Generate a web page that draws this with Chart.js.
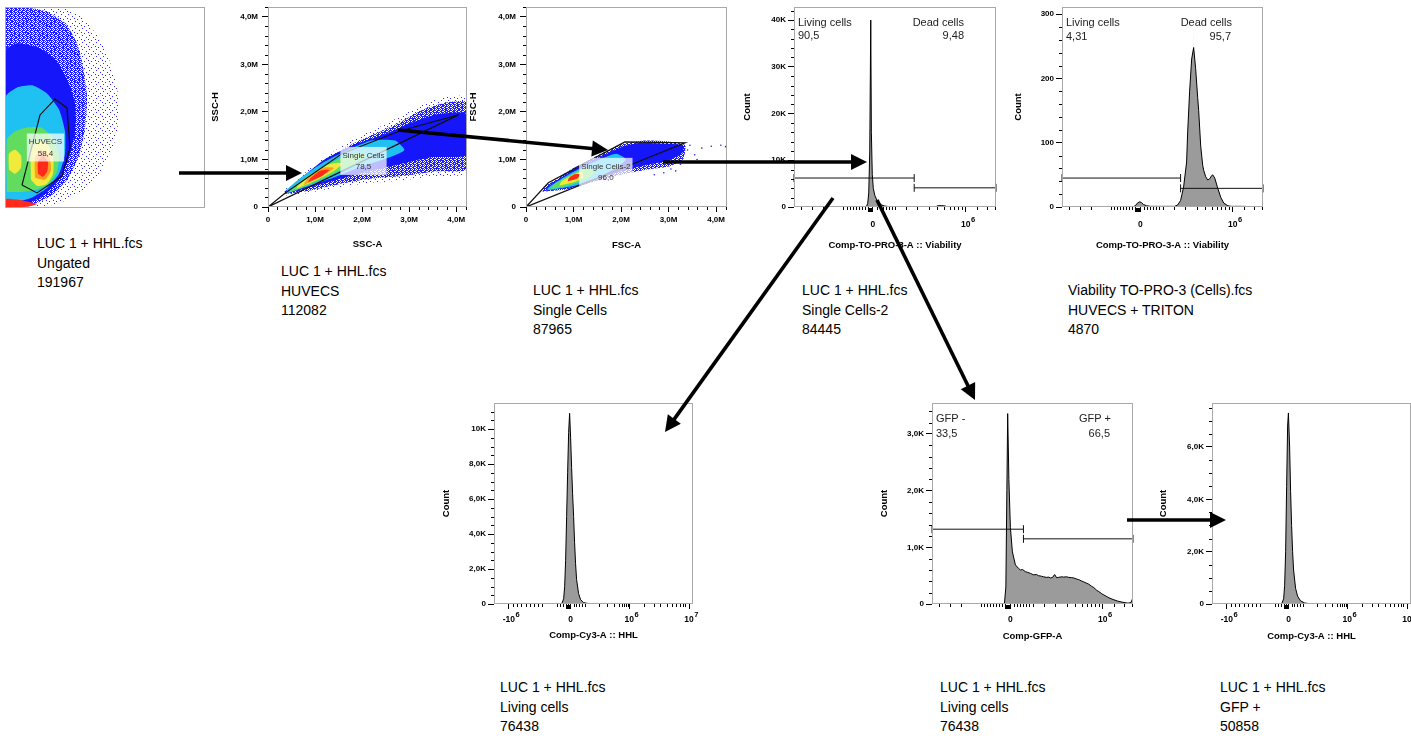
<!DOCTYPE html>
<html>
<head>
<meta charset="utf-8">
<script src="https://cdn.jsdelivr.net/npm/chart.js@4.4.1/dist/chart.umd.min.js"></script>
<style>
html, body { margin: 0; padding: 0; background: #fff; width: 1411px; height: 739px; overflow: hidden; position: relative; font-family: 'Liberation Sans', Arial, Helvetica, sans-serif; }
canvas { position: absolute; }
.info { position: absolute; font-size: 14px; line-height: 19.5px; color: #000; white-space: nowrap; }
svg { position: absolute; left: 0; top: 0; }
</style>
</head>
<body>
<script>
const FONT = "'Liberation Sans', Arial, Helvetica, sans-serif";
Chart.defaults.font.family = FONT;
Chart.defaults.color = '#000';

// ---- tick values / labels ----
const mTicks = [0, 1, 2, 3, 4];
const mLabels = ['0', '1,0M', '2,0M', '3,0M', '4,0M'];
const viabTicks = [0, 10000, 20000, 30000, 40000];
const viabLabels = ['0', '10K', '20K', '30K', '40K'];
const tritonTicks = [0, 100, 200, 300];
const tritonLabels = ['0', '100', '200', '300'];
const cy3Ticks = [0, 2000, 4000, 6000, 8000, 10000];
const cy3Labels = ['0', '2,0K', '4,0K', '6,0K', '8,0K', '10K'];
const gfpTicks = [0, 1000, 2000, 3000];
const gfpLabels = ['0', '1,0K', '2,0K', '3,0K'];
const cy3GfpTicks = [0, 2000, 4000, 6000];
const cy3GfpLabels = ['0', '2,0K', '4,0K', '6,0K'];
// biexponential axes (channel 0-200)
const biexA = [{v: 78, base: '0'}, {v: 170, base: '10', exp: '6'}];
const biexAMinor = [7, 18, 29, 49, 52, 55, 58, 61, 64, 67, 70, 73, 82, 85, 88, 91, 94, 97, 100, 111, 122, 134, 142, 149, 154, 158, 162, 166, 181, 191, 199];
const biexB = [{v: 15, base: '-10', exp: '6'}, {v: 77, base: '0'}, {v: 136, base: '10', exp: '6'}, {v: 196, base: '10', exp: '7'}];
const biexBMinor = [19, 23, 27, 32, 36, 40, 44, 48, 63, 66, 69, 72, 74, 80, 82, 85, 88, 91, 106, 114, 121, 126, 129, 131, 133, 135, 151, 161, 167, 174, 179, 183, 187, 190, 192];

// ---- Ungated FSC/SSC density outlines (axis units 0-100) ----
const ungatedSparse = [[0,0],[0,100],[28,100],[38,95],[46,86],[52,74],[56,60],[57,45],[54,30],[47,17],[38,8],[26,2],[12,0]];
const ungatedMid = [[0,0],[0,99],[8,100],[20,98],[30,92],[36,82],[39,70],[41,55],[40,40],[37,26],[31,14],[23,6],[12,1]];
const ungatedBlue = [[0,1],[0,78],[6,82],[16,80],[25,74],[31,64],[35,52],[35,38],[32,25],[27,14],[19,6],[10,2]];
const ungatedCyan = [[0,3],[0,55],[6,60],[14,61],[21,57],[27,49],[30,38],[30,27],[27,17],[21,10],[13,5],[5,3]];
const ungatedGreen = [[1,8],[1,34],[5,38],[11,40],[18,40],[24,35],[27,27],[26,18],[22,12],[15,9],[7,8]];
const ungatedYellowLeft = [[2,19],[2,27],[5,29],[8,26],[8,20],[5,17]];
const ungatedYellow = [[13,14],[13,28],[16,33],[21,32],[24,26],[24,17],[21,12],[16,11]];
const ungatedOrange = [[15,15],[15,25],[18,29],[22,26],[23,19],[20,14]];
const ungatedRed = [[16.5,17],[16.5,23],[19,26],[21.5,23],[21,18],[19,15.5]];
const ungatedStreak = [[0,0.5],[0,4.5],[6,4.2],[12,3],[16,2],[12,0.8],[4,0.3]];
const huvecsGate = [[8.5,11.4],[16,7.5],[28.5,15.9],[32.5,29.9],[31,49.8],[25,54.2],[17.5,46.3],[8.5,11.4]];

// ---- HUVECS SSC-A / SSC-H (millions) ----
const huvSparse = [[0.3,0.24],[0.7,0.27],[1.4,0.4],[2.1,0.5],[2.8,0.55],[3.5,0.65],[4.23,0.72],[4.23,2.3],[3.8,2.32],[3.3,2.18],[2.8,1.9],[2.3,1.65],[1.8,1.42],[1.4,1.17],[1.0,0.9],[0.6,0.56],[0.3,0.32]];
const huvMid = [[0.35,0.27],[0.8,0.33],[1.5,0.48],[2.2,0.6],[2.9,0.66],[3.6,0.75],[4.23,0.8],[4.23,2.2],[3.8,2.2],[3.3,2.05],[2.8,1.78],[2.3,1.55],[1.8,1.33],[1.4,1.1],[1.0,0.84],[0.6,0.52],[0.35,0.32]];
const huvBlue = [[0.35,0.27],[1.2,0.5],[2.0,0.72],[2.8,0.9],[3.5,1.05],[4.23,1.1],[4.23,1.95],[3.6,1.95],[3.0,1.75],[2.4,1.5],[1.8,1.3],[1.2,1.0],[0.7,0.6],[0.38,0.33]];
const huvCyan = [[0.38,0.28],[0.8,0.42],[1.4,0.62],[2.0,0.85],[2.6,1.05],[2.9,1.2],[2.7,1.4],[2.2,1.4],[1.7,1.2],[1.2,0.95],[0.7,0.62],[0.4,0.36]];
const huvGreen = [[0.45,0.3],[0.9,0.48],[1.4,0.7],[1.9,0.95],[2.1,1.1],[1.8,1.12],[1.3,0.92],[0.8,0.62],[0.5,0.38]];
const huvYellow = [[0.6,0.38],[1.0,0.55],[1.4,0.76],[1.6,0.92],[1.3,0.9],[0.9,0.66],[0.65,0.48]];
const huvOrange = [[0.75,0.46],[1.1,0.62],[1.4,0.82],[1.2,0.83],[0.85,0.6]];
const huvRed = [[0.85,0.52],[1.15,0.66],[1.3,0.78],[1.1,0.76],[0.9,0.6]];
const singleGate = [[0,0],[0.36,0.29],[1.57,1.12],[2.8,1.6],[4.05,1.94],[0,0]];

// ---- Single Cells FSC-A / FSC-H (millions) ----
const scSparse = [[0.35,0.32],[0.9,0.38],[1.5,0.55],[2.0,0.68],[2.5,0.78],[3.0,0.85],[3.3,1.0],[3.35,1.3],[3.0,1.38],[2.5,1.4],[2.0,1.32],[1.5,1.08],[1.0,0.82],[0.6,0.56],[0.38,0.42]];
const scBlue = [[0.42,0.34],[1.0,0.42],[1.5,0.58],[2.0,0.75],[2.5,0.88],[3.0,0.98],[3.3,1.15],[3.3,1.3],[2.9,1.33],[2.4,1.35],[2.0,1.26],[1.5,1.02],[1.0,0.78],[0.6,0.53],[0.43,0.41]];
const scCyan = [[0.45,0.35],[1.0,0.44],[1.5,0.62],[1.9,0.82],[2.1,1.0],[1.9,1.12],[1.5,0.98],[1.0,0.74],[0.6,0.5],[0.46,0.4]];
const scGreen = [[0.5,0.37],[0.9,0.45],[1.3,0.6],[1.45,0.74],[1.3,0.84],[0.95,0.68],[0.62,0.5]];
const scYellow = [[0.7,0.45],[1.0,0.52],[1.2,0.62],[1.17,0.74],[0.95,0.66],[0.75,0.54]];
const scRed = [[0.88,0.54],[1.08,0.6],[1.14,0.69],[1.02,0.69],[0.9,0.61]];
const scOutliers = [[3.4,1.2],[3.55,1.1],[3.7,1.24],[3.9,1.28],[4.1,1.3],[4.2,1.27],[3.5,0.95],[3.25,0.9],[3.05,0.8],[2.9,0.72],[3.3,1.02],[3.6,1.0],[3.45,1.3],[3.15,0.76],[2.7,0.68]];
const single2Gate = [[0,0],[0.47,0.51],[2.08,1.37],[3.35,1.35],[0,0]];

// ---- histograms (channel, count) ----
const histViab = [[0,0],[70,0],[72,200],[73,800],[74,3000],[75,12000],[76,40000],[76.6,16000],[77.5,7000],[78.5,4000],[80,2500],[82,1500],[84,900],[87,400],[90,200],[95,60],[100,20],[110,0],[140,0],[142,250],[146,300],[150,200],[152,0],[200,0]];
const livingViab = [[0,6200],[119,6200]];
const deadViab = [[119,4100],[200,4100]];
const histTriton = [[0,0],[70,0],[73,2],[75,6],[77,8],[79,7],[81,4],[84,2],[88,1],[100,1],[112,1],[115,3],[118,10],[121,31],[124,70],[125,115],[127,180],[129,230],[131,248],[133,215],[135,170],[136,150],[138,95],[140,65],[141,57],[143,47],[145,42],[147,44],[149,49],[150,50],[152,45],[155,29],[158,15],[161,6],[165,2],[168,1],[180,1],[200,0]];
const histTritonSpike = [[129.5,0],[130.7,282],[131.9,0]];
const livingTriton = [[0,45],[118,45]];
const deadTriton = [[118,29],[200,29]];
const histCy3Living = [[0,0],[68,0],[70,300],[71,1000],[72,2500],[73,5000],[74,7500],[75,9800],[76,10900],[77,9500],[78,7800],[79,6300],[80,5000],[81,3500],[82,2300],[83,1400],[85,600],[87,250],[90,80],[95,20],[100,0],[200,0]];
const histGfp = [[0,0],[72,0],[73.5,300],[74.5,2000],[75.3,3360],[76.5,2200],[78,1350],[80,920],[83,690],[86,630],[88,600],[90,610],[93,570],[95,560],[98,540],[101,515],[104,520],[106,500],[109,490],[111,480],[114,470],[116,475],[118,460],[120,470],[122,520],[124,465],[126,470],[129,480],[131,475],[134,480],[136,470],[139,465],[141,460],[144,440],[146,430],[149,405],[151,390],[154,365],[156,350],[159,310],[161,290],[164,240],[166,220],[169,180],[171,160],[174,130],[176,110],[180,80],[185,50],[190,30],[195,15],[198,25],[199.5,90],[200,0]];
const gfpNeg = [[0,1320],[91,1320]];
const gfpPos = [[91,1150],[200,1150]];
const histCy3Gfp = [[0,0],[70,0],[72,200],[73,700],[74,2000],[75,4500],[76,6800],[76.8,7300],[78,6000],[79,4300],[80,3000],[81,2000],[82,1300],[84,600],[86,300],[89,120],[93,40],[98,10],[103,0],[200,0]];

// ---- helpers ----
const pts = arr => arr.map(([x, y]) => ({x, y}));
const minorSteps = (max, step, every) => {
  const out = [];
  for (let i = 1; i * step <= max + 1e-9; i++) if (i % every) out.push(+(i * step).toFixed(4));
  return out;
};
// dotted fills that mimic sparse event dots
function speckle(color, size, dots) {
  const c = document.createElement('canvas');
  c.width = c.height = size;
  const g = c.getContext('2d');
  g.fillStyle = color;
  dots.forEach(([x, y]) => g.fillRect(x, y, 1, 1));
  return g.createPattern(c, 'repeat');
}
const blob = (arr, color, order, tension) => ({
  data: pts(arr.concat([arr[0]])), showLine: true, fill: 'shape', backgroundColor: color,
  borderColor: 'rgba(0,0,0,0)', borderWidth: 0, pointRadius: 0, tension: tension === undefined ? 0.2 : tension, order
});
const outline = arr => ({data: pts(arr), fill: false, borderColor: '#111', borderWidth: 1.2, pointRadius: 0, tension: 0, order: 0});
const hist = (arr, color) => ({data: pts(arr), fill: 'origin', backgroundColor: color || '#9b9b9b', borderColor: color ? 'rgba(0,0,0,0)' : '#000', borderWidth: 1, pointRadius: 0, tension: 0, order: color ? 6 : 5});
const gate = arr => ({data: pts(arr), fill: false, borderColor: '#111', borderWidth: 1, pointRadius: 4, pointStyle: 'line', pointRotation: 90, pointBorderColor: '#111', pointBorderWidth: 1, tension: 0, clip: 6, order: 0});

const flowPlugin = {
  id: 'flow',
  afterDatasetsDraw(chart, args, o) {
    const {ctx, chartArea: a, scales: {x, y}} = chart;
    ctx.save();
    (o.boxes || []).forEach(b => {
      ctx.font = '8px ' + FONT;
      const w = Math.max(...b.lines.map(t => ctx.measureText(t).width)) + 4;
      const h = b.lines.length * 11.5 + 5;
      const cx = x.getPixelForValue(b.x), cy = y.getPixelForValue(b.y);
      ctx.fillStyle = 'rgba(255,255,255,0.72)';
      ctx.fillRect(cx - w / 2, cy - h / 2, w, h);
      ctx.fillStyle = '#333'; ctx.textAlign = 'center'; ctx.textBaseline = 'middle';
      b.lines.forEach((t, i) => ctx.fillText(t, cx, cy - h / 2 + 8.5 + i * 11.5));
    });
    ctx.font = '11px ' + FONT; ctx.fillStyle = '#222'; ctx.textBaseline = 'middle';
    (o.texts || []).forEach(t => {
      ctx.textAlign = t.align || 'left';
      ctx.fillText(t.text, a.left + t.dx, a.top + t.dy);
    });
    ctx.restore();
  },
  afterDraw(chart, args, o) {
    const {ctx, chartArea: a, scales: {x, y}} = chart;
    ctx.save();
    ctx.strokeStyle = '#a8a8a8'; ctx.lineWidth = 1;
    ctx.strokeRect(a.left + 0.5, a.top + 0.5, a.right - a.left - 1, a.bottom - a.top - 1);
    ctx.strokeStyle = '#000';
    ctx.beginPath();
    (o.xMinor || []).forEach(v => {
      const px = Math.round(x.getPixelForValue(v)) + 0.5;
      ctx.moveTo(px, a.bottom); ctx.lineTo(px, a.bottom + 3);
    });
    (o.yMinor || []).forEach(v => {
      if (v > y.max) return;
      const py = Math.round(y.getPixelForValue(v)) + 0.5;
      ctx.moveTo(a.left, py); ctx.lineTo(a.left - 3, py);
    });
    ctx.stroke();
    if (o.zero !== undefined) {
      const px = Math.round(x.getPixelForValue(o.zero));
      ctx.fillStyle = '#000';
      ctx.fillRect(px - 5, a.bottom + 1, 5, 4);
    }
    (o.xExp || []).forEach(t => {
      const px = x.getPixelForValue(t.v);
      const py = a.bottom + o.xLabelOff;
      ctx.fillStyle = '#000';
      ctx.font = 'bold 8.5px ' + FONT; ctx.textAlign = 'center'; ctx.textBaseline = 'middle';
      ctx.fillText(t.base, px, py);
      if (t.exp) {
        const w = ctx.measureText(t.base).width;
        ctx.font = 'bold 7.5px ' + FONT; ctx.textAlign = 'left';
        ctx.fillText(t.exp, px + w / 2 + 0.5, py - 5.5);
      }
    });
    ctx.restore();
  }
};
Chart.register(flowPlugin);

function panel(box, o) {
  const ax = o.axes !== false;
  const yW = ax ? 72 : 0, xH = ax ? 50 : 0, padT = ax ? 12 : 0, padR = ax ? 20 : 0;
  const cv = document.createElement('canvas');
  cv.width = box[2] - box[0] + yW + padR;
  cv.height = box[3] - box[1] + padT + xH;
  cv.style.left = (box[0] - yW) + 'px';
  cv.style.top = (box[1] - padT) + 'px';
  document.body.appendChild(cv);
  const tickFont = {family: FONT, size: 8, weight: 'bold'};
  const titleFont = {family: FONT, size: 9.5, weight: 'bold'};
  const lh = 9.5 * 1.2;
  const gridOpts = {display: true, drawOnChartArea: false, drawTicks: true, tickLength: 6, tickColor: '#000', color: '#000'};
  new Chart(cv, {
    type: 'line',
    data: {datasets: o.datasets},
    options: {
      responsive: false, animation: false, devicePixelRatio: 1,
      layout: {padding: {top: padT, right: padR, left: 0, bottom: 0}},
      plugins: {
        legend: {display: false}, tooltip: {enabled: false},
        flow: {boxes: o.boxes, texts: o.texts, xMinor: o.xMinor, yMinor: o.yMinor, xExp: o.xExp, xLabelOff: o.xLabelOff, zero: o.zero}
      },
      scales: {
        x: {
          type: 'linear', display: ax, min: o.x[0], max: o.x[1],
          afterFit: s => { s.height = xH; },
          afterBuildTicks: s => { if (ax) s.ticks = (o.xMajor || o.xExp.map(t => t.v)).map(v => ({value: v})); },
          ticks: {display: ax && !o.xExp, autoSkip: false, maxRotation: 0, padding: 3, font: tickFont, color: '#000',
            callback: (v, i) => (o.xLabels && o.xLabels[i] !== undefined) ? o.xLabels[i] : ''},
          grid: Object.assign({}, gridOpts, {tickLength: 5}),
          border: {display: false},
          title: {display: ax, text: o.xTitle || '', font: titleFont, color: '#000', padding: {top: 0, bottom: xH - (o.xGap || 0) - lh / 2}}
        },
        y: {
          type: 'linear', display: ax, min: o.y[0], max: o.y[1],
          afterFit: s => { s.width = yW; },
          afterBuildTicks: s => { if (ax) s.ticks = o.yMajor.map(v => ({value: v})); },
          ticks: {autoSkip: false, padding: o.yPad || 2, font: tickFont, color: '#000',
            callback: (v, i) => (o.yLabels && o.yLabels[i] !== undefined) ? o.yLabels[i] : ''},
          grid: gridOpts,
          border: {display: false},
          title: {display: ax, text: o.yTitle || '', font: titleFont, color: '#000', padding: {top: yW - (o.yGap || 0) - lh / 2, bottom: 0}}
        }
      }
    }
  });
}

// pseudocolor palette
const C = {
  sparse: speckle('#2828ff', 7, [[0,0],[4,2],[2,5],[6,4]]),
  mid: speckle('#1e1eff', 4, [[0,0],[1,0],[2,1],[3,1],[0,2],[1,3],[2,2],[3,3],[1,1],[2,3]]),
  blue: '#1616fa', cyan: '#1fc0f2', green: '#62dc5e', yellow: '#f0ea3a', orange: '#ff9a22', red: '#ff2a1a'
};

// Ungated
panel([5, 7, 205, 208], {
  axes: false, x: [0, 100], y: [0, 100],
  datasets: [
    outline(huvecsGate),
    blob(ungatedStreak, C.red, 1),
    blob(ungatedRed, C.red, 1),
    blob(ungatedOrange, C.orange, 2),
    blob(ungatedYellow, C.yellow, 3),
    blob(ungatedYellowLeft, C.yellow, 3),
    blob(ungatedGreen, C.green, 4),
    blob(ungatedCyan, C.cyan, 5),
    blob(ungatedBlue, C.blue, 6),
    blob(ungatedMid, C.mid, 7),
    blob(ungatedSparse, C.sparse, 8)
  ],
  boxes: [{x: 20.25, y: 30.1, lines: ['HUVECS', '58,4']}]
});

// HUVECS
panel([268, 7, 467, 207], {
  x: [0, 4.23], y: [0, 4.21],
  xMajor: mTicks, xLabels: mLabels, yMajor: mTicks, yLabels: mLabels,
  xMinor: minorSteps(4.2, 0.2, 5), yMinor: minorSteps(4.2, 0.2, 5),
  xTitle: 'SSC-A', yTitle: 'SSC-H', yGap: 53, xGap: 37, yPad: 4,
  datasets: [
    outline(singleGate),
    blob(huvRed, C.red, 1),
    blob(huvOrange, C.orange, 2),
    blob(huvYellow, C.yellow, 3),
    blob(huvGreen, C.green, 4),
    blob(huvCyan, C.cyan, 5),
    blob(huvBlue, C.blue, 6),
    blob(huvMid, C.mid, 7),
    blob(huvSparse, C.sparse, 8)
  ],
  boxes: [{x: 2.03, y: 0.97, lines: ['Single Cells', '78,5']}]
});

// Single Cells
panel([526, 7, 727, 207], {
  x: [0, 4.23], y: [0, 4.21],
  xMajor: mTicks, xLabels: mLabels, yMajor: mTicks, yLabels: mLabels,
  xMinor: minorSteps(4.2, 0.2, 5), yMinor: minorSteps(4.2, 0.2, 5),
  xTitle: 'FSC-A', yTitle: 'FSC-H', yGap: 53, xGap: 38, yPad: 4,
  datasets: [
    outline(single2Gate),
    blob(scRed, C.red, 1),
    blob(scYellow, C.yellow, 3),
    blob(scGreen, C.green, 4),
    blob(scCyan, C.cyan, 5),
    blob(scBlue, C.blue, 6),
    blob(scSparse, C.mid, 7),
    {data: pts(scOutliers), showLine: false, pointRadius: 0.8, pointBackgroundColor: '#2020ff', pointBorderWidth: 0, order: 8}
  ],
  boxes: [{x: 1.68, y: 0.74, lines: ['Single Cells-2', '96,0']}]
});

// Viability (LUC 1)
panel([794, 7, 996, 207], {
  x: [0, 200], y: [0, 42800],
  xExp: biexA, xMinor: biexAMinor, xLabelOff: 18, zero: 78,
  yMajor: viabTicks, yLabels: viabLabels, yMinor: minorSteps(42800, 2000, 5),
  xTitle: 'Comp-TO-PRO-3-A :: Viability', yTitle: 'Count', yGap: 47, xGap: 38, yPad: 2,
  datasets: [gate(livingViab), gate(deadViab), hist(histViab)],
  texts: [
    {dx: 4, dy: 16, text: 'Living cells'}, {dx: 4, dy: 29, text: '90,5'},
    {dx: 170, dy: 16, text: 'Dead cells', align: 'right'}, {dx: 170, dy: 29, text: '9,48', align: 'right'}
  ]
});

// Viability (TRITON)
panel([1062, 7, 1263, 207], {
  x: [0, 200], y: [0, 311],
  xExp: biexA, xMinor: biexAMinor, xLabelOff: 18, zero: 78,
  yMajor: tritonTicks, yLabels: tritonLabels, yMinor: minorSteps(311, 20, 5),
  xTitle: 'Comp-TO-PRO-3-A :: Viability', yTitle: 'Count', yGap: 44, xGap: 38, yPad: 2,
  datasets: [gate(livingTriton), gate(deadTriton), hist(histTriton), hist(histTritonSpike, '#d2d2d2')],
  texts: [
    {dx: 4, dy: 16, text: 'Living cells'}, {dx: 4, dy: 30, text: '4,31'},
    {dx: 170, dy: 16, text: 'Dead cells', align: 'right'}, {dx: 169, dy: 30, text: '95,7', align: 'right'}
  ]
});

// Living cells -> Cy3
panel([494, 403, 693, 604], {
  x: [0, 200], y: [0, 11490],
  xExp: biexB, xMinor: biexBMinor, xLabelOff: 16, zero: 77,
  yMajor: cy3Ticks, yLabels: cy3Labels, yMinor: minorSteps(11490, 500, 4),
  xTitle: 'Comp-Cy3-A :: HHL', yTitle: 'Count', yGap: 48, xGap: 31, yPad: 2,
  datasets: [hist(histCy3Living)]
});

// Living cells -> GFP
panel([932, 403, 1133, 604], {
  x: [0, 200], y: [0, 3547],
  xExp: biexA, xMinor: biexAMinor, xLabelOff: 16, zero: 78,
  yMajor: gfpTicks, yLabels: gfpLabels, yMinor: minorSteps(3547, 200, 5),
  xTitle: 'Comp-GFP-A', yTitle: 'Count', yGap: 48, xGap: 32, yPad: 2,
  datasets: [gate(gfpNeg), gate(gfpPos), hist(histGfp)],
  texts: [
    {dx: 4, dy: 16, text: 'GFP -'}, {dx: 4, dy: 31, text: '33,5'},
    {dx: 179, dy: 16, text: 'GFP +', align: 'right'}, {dx: 178, dy: 31, text: '66,5', align: 'right'}
  ]
});

// GFP+ -> Cy3
panel([1212, 403, 1411, 604], {
  x: [0, 200], y: [0, 7680],
  xExp: biexB, xMinor: biexBMinor, xLabelOff: 16, zero: 77,
  yMajor: cy3GfpTicks, yLabels: cy3GfpLabels, yMinor: minorSteps(7680, 500, 4),
  xTitle: 'Comp-Cy3-A :: HHL', yTitle: 'Count', yGap: 49, xGap: 32, yPad: 2,
  datasets: [hist(histCy3Gfp)]
});

// sample descriptions
const sampleBlocks = [
  [37, 234, ['LUC 1 + HHL.fcs', 'Ungated', '191967']],
  [281, 262, ['LUC 1 + HHL.fcs', 'HUVECS', '112082']],
  [533, 281, ['LUC 1 + HHL.fcs', 'Single Cells', '87965']],
  [802, 281, ['LUC 1 + HHL.fcs', 'Single Cells-2', '84445']],
  [1068, 281, ['Viability TO-PRO-3 (Cells).fcs', 'HUVECS + TRITON', '4870']],
  [500, 678, ['LUC 1 + HHL.fcs', 'Living cells', '76438']],
  [940, 678, ['LUC 1 + HHL.fcs', 'Living cells', '76438']],
  [1220, 678, ['LUC 1 + HHL.fcs', 'GFP +', '50858']]
];
sampleBlocks.forEach(([left, top, lines]) => {
  const d = document.createElement('div');
  d.className = 'info';
  d.style.left = left + 'px'; d.style.top = top + 'px';
  d.innerHTML = lines.join('<br>');
  document.body.appendChild(d);
});

// gating arrows: tail x, tail y, tip x, tip y
const arrows = [[179,173,302,173],[398,130,608,150],[663,162,867,162],[833,198,665,432],[877,200,975,400],[1127,520,1226,520]];
const NS = 'http://www.w3.org/2000/svg';
const svg = document.createElementNS(NS, 'svg');
svg.setAttribute('width', 1411); svg.setAttribute('height', 739);
arrows.forEach(([x1, y1, x2, y2]) => {
  const len = Math.hypot(x2 - x1, y2 - y1), ux = (x2 - x1) / len, uy = (y2 - y1) / len;
  const hl = 16, hw = 8;
  const bx = x2 - ux * hl, by = y2 - uy * hl;
  const line = document.createElementNS(NS, 'line');
  line.setAttribute('x1', x1); line.setAttribute('y1', y1);
  line.setAttribute('x2', bx + ux * 2); line.setAttribute('y2', by + uy * 2);
  line.setAttribute('stroke', '#000'); line.setAttribute('stroke-width', 3.6);
  svg.appendChild(line);
  const head = document.createElementNS(NS, 'polygon');
  head.setAttribute('points', `${x2},${y2} ${bx - uy * hw},${by + ux * hw} ${bx + uy * hw},${by - ux * hw}`);
  head.setAttribute('fill', '#000');
  svg.appendChild(head);
});
document.body.appendChild(svg);
</script>
</body>
</html>
